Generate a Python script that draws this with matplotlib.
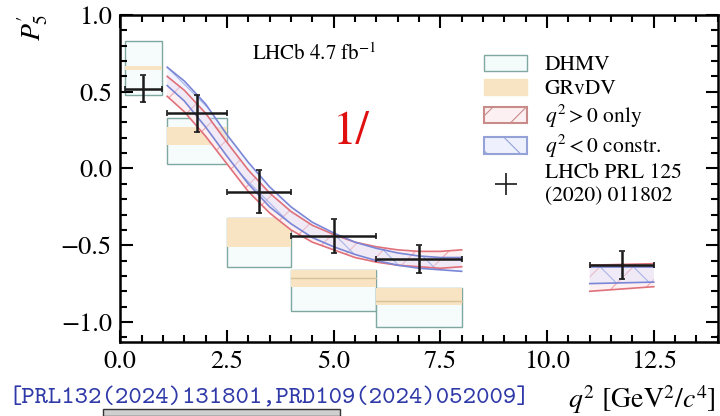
import numpy as np
import matplotlib
matplotlib.use("Agg")
import matplotlib.pyplot as plt
from matplotlib.patches import Patch, Rectangle
from matplotlib.ticker import MultipleLocator, FuncFormatter

plt.rcParams["font.family"] = ["STIXGeneral", "Liberation Serif", "DejaVu Serif"]
plt.rcParams["mathtext.fontset"] = "stix"
plt.rcParams["hatch.linewidth"] = 0.8

# LHCb data points (bin edges, central value, error)
lhcb_lo = [0.10, 1.10, 2.50, 4.00, 6.00, 11.00]
lhcb_hi = [0.98, 2.50, 4.00, 6.00, 8.00, 12.50]
lhcb_val = [0.52, 0.36, -0.15, -0.44, -0.59, -0.63]
lhcb_err = [0.09, 0.12, 0.14, 0.11, 0.09, 0.09]

# DHMV boxes (bin low, bin high, bottom, top)
dhmv_lo = [0.10, 1.10, 2.50, 4.00, 6.00]
dhmv_hi = [0.98, 2.50, 4.00, 6.00, 8.00]
dhmv_bot = [0.48, 0.03, -0.64, -0.93, -1.03]
dhmv_top = [0.83, 0.33, -0.32, -0.66, -0.78]

# GRvDV bands
grv_bot = [0.64, 0.15, -0.51, -0.77, -0.89]
grv_top = [0.67, 0.27, -0.32, -0.66, -0.78]
grv_mid = [None, None, None, -0.715, -0.86]

# theory curves, low-q2 region
q2 = [1.1, 1.5, 2.0, 2.5, 3.0, 3.5, 4.0, 4.5, 5.0, 5.5, 6.0, 6.5, 7.0, 7.5, 8.0]
blue_hi = [0.66, 0.57, 0.42, 0.22, 0.04, -0.12, -0.25, -0.35, -0.42, -0.48, -0.52, -0.55, -0.57, -0.58, -0.58]
blue_lo = [0.54, 0.44, 0.27, 0.08, -0.10, -0.25, -0.36, -0.45, -0.51, -0.56, -0.60, -0.63, -0.65, -0.66, -0.67]
red_hi = [0.60, 0.51, 0.36, 0.17, -0.01, -0.16, -0.28, -0.37, -0.43, -0.48, -0.51, -0.53, -0.54, -0.54, -0.53]
red_lo = [0.47, 0.37, 0.21, 0.03, -0.15, -0.29, -0.40, -0.48, -0.53, -0.58, -0.61, -0.63, -0.64, -0.65, -0.64]

# theory high-q2 bin
q2_high = [11.0, 12.5]
blue_hi_h = [-0.64, -0.64]
blue_lo_h = [-0.75, -0.74]
red_hi_h = [-0.63, -0.62]
red_lo_h = [-0.80, -0.77]

teal = "#7fa8a0"
peach = "#f8e3c3"
red = "#e0707a"
blue = "#7a86d6"

fig = plt.figure(figsize=(7.2, 4.16), dpi=100)
ax = fig.add_axes([0.167, 0.178, 0.830, 0.786])

for lo, hi, b, t in zip(dhmv_lo, dhmv_hi, dhmv_bot, dhmv_top):
    ax.add_patch(Rectangle((lo, b), hi - lo, t - b, facecolor="#f6fbfb",
                           edgecolor=teal, lw=1.0, zorder=1))
for lo, hi, b, t, m in zip(dhmv_lo, dhmv_hi, grv_bot, grv_top, grv_mid):
    ax.add_patch(Rectangle((lo, b), hi - lo, t - b, facecolor=peach,
                           edgecolor="none", zorder=2))
    if m is not None:
        ax.plot([lo, hi], [m, m], color="#d9c49a", lw=1.0, zorder=2)

for xs, rlo, rhi, blo, bhi in [(q2, red_lo, red_hi, blue_lo, blue_hi),
                               (q2_high, red_lo_h, red_hi_h, blue_lo_h, blue_hi_h)]:
    ax.fill_between(xs, rlo, rhi, facecolor="#fdf0f2", edgecolor="#f0a8b0",
                    hatch="/", lw=0, zorder=3)
    ax.fill_between(xs, blo, bhi, facecolor=(0.85, 0.88, 1.0, 0.35), edgecolor="#a8b4ea",
                    hatch="\\", lw=0, zorder=4)
    ax.plot(xs, rhi, color=red, lw=1.2, zorder=5)
    ax.plot(xs, rlo, color=red, lw=1.2, zorder=5)
    ax.plot(xs, bhi, color=blue, lw=1.2, zorder=5)
    ax.plot(xs, blo, color=blue, lw=1.2, zorder=5)

xc = [(a + b) / 2 for a, b in zip(lhcb_lo, lhcb_hi)]
xe = [(b - a) / 2 for a, b in zip(lhcb_lo, lhcb_hi)]
ax.errorbar(xc, lhcb_val, xerr=xe, yerr=lhcb_err, fmt="none", ecolor="#1a1a1a",
            elinewidth=1.8, capsize=2.5, capthick=1.2, zorder=6)

fmt = FuncFormatter(lambda v, pos: f"{v:.1f}".replace("-", "\u2212"))
ax.set_xlim(0, 14)
ax.set_ylim(-1.13, 1.0)
ax.xaxis.set_major_locator(MultipleLocator(2.5))
ax.xaxis.set_minor_locator(MultipleLocator(0.5))
ax.yaxis.set_major_locator(MultipleLocator(0.5))
ax.yaxis.set_minor_locator(MultipleLocator(0.1))
ax.xaxis.set_major_formatter(fmt)
ax.yaxis.set_major_formatter(fmt)
ax.tick_params(which="both", direction="in", top=True, right=True, width=1.5,
               labelsize=19)
ax.tick_params(which="major", length=9, pad=6)
ax.tick_params(which="minor", length=5)
for s in ax.spines.values():
    s.set_linewidth(1.8)

ax.text(0.22, 0.88, r"LHCb 4.7 fb$^{-1}$", transform=ax.transAxes, fontsize=15,
        ha="left", va="center")
ax.text(0.355, 0.64, "1/", transform=ax.transAxes, fontsize=34, color="#e01010",
        ha="left", va="center")

handles = [
    Patch(facecolor="#f4fbfb", edgecolor=teal, lw=1.0),
    Patch(facecolor=peach, edgecolor=peach),
    Patch(facecolor="#fdf0f2", edgecolor="#c98a8a", hatch="/", lw=1.5),
    Patch(facecolor="#eef1fd", edgecolor="#95a2d8", hatch="\\", lw=1.5),
    ax.errorbar([], [], xerr=[], yerr=[], fmt="none", ecolor="#1a1a1a", elinewidth=1.2),
]
labels = ["DHMV", "GRvDV", r"$q^2 > 0$ only", r"$q^2 < 0$ constr.",
          "LHCb PRL 125\n(2020) 011802"]
leg = ax.legend(handles, labels, loc="upper left", bbox_to_anchor=(0.595, 0.905),
                frameon=False, fontsize=15.5, handlelength=2.0, handleheight=0.8,
                labelspacing=0.15, handletextpad=0.8, borderaxespad=0.0)

fig.text(0.045, 0.935, r"$P_5^{\prime}$", rotation=90, fontsize=20, ha="center", va="center")
fig.text(0.994, 0.040, r"$q^2$ [GeV$^2/c^4$]", fontsize=20, ha="right", va="center")
fig.text(0.012, 0.040, "[PRL132(2024)131801,PRD109(2024)052009]", family="cmtt10",
         fontsize=18.3, color="#2f3aa8", ha="left", va="center")

fig.patches.append(Rectangle((103 / 720, 0), 237 / 720, 7 / 416, transform=fig.transFigure,
                             facecolor="#cfcfcf", edgecolor="#333333", lw=1.0))

fig.savefig("out.png", dpi=100)
